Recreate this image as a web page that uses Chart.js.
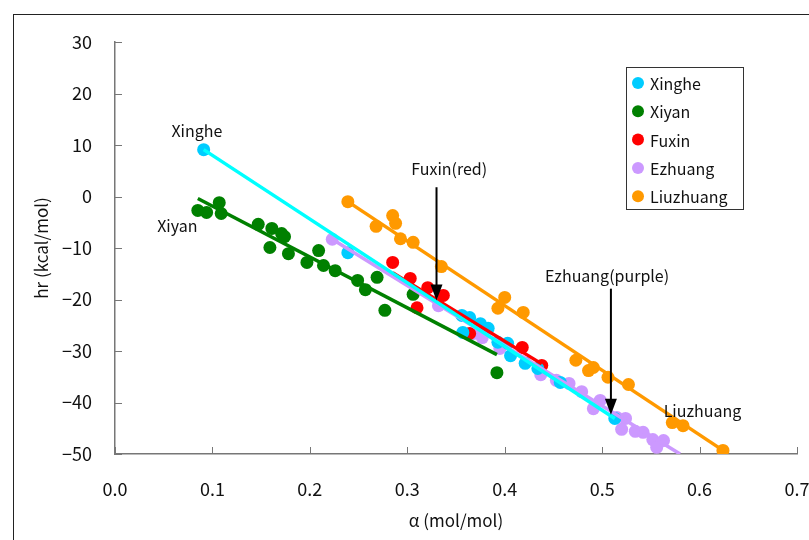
<!DOCTYPE html>
<html lang="en">
<head>
<meta charset="UTF-8">
<title>hr vs alpha</title>
<script src="https://cdn.jsdelivr.net/npm/chart.js"></script>
<style>
  html, body { margin: 0; padding: 0; background: #fff; }
  .chart-box { position: relative; width: 809px; height: 540px; }
</style>
</head>
<body>
<div class="chart-box"><canvas id="hrChart" width="809" height="540"></canvas></div>
<script>
// values: alpha (mol/mol) vs hr (kcal/mol)
const xingheAlpha = [0.091, 0.239, 0.356, 0.364, 0.375, 0.357, 0.383, 0.393, 0.403, 0.406, 0.421, 0.434, 0.457, 0.513];
const xingheHr    = [9.1, -10.9, -23.1, -23.5, -24.7, -26.4, -25.6, -28.3, -28.5, -30.9, -32.4, -33.4, -36.1, -43.1];

const xiyanAlpha = [0.085, 0.094, 0.107, 0.109, 0.147, 0.161, 0.159, 0.171, 0.174, 0.178, 0.197, 0.209, 0.214, 0.226, 0.249, 0.257, 0.269, 0.277, 0.306, 0.392];
const xiyanHr    = [-2.7, -3.1, -1.2, -3.3, -5.4, -6.2, -9.9, -7.2, -7.8, -11.1, -12.8, -10.5, -13.4, -14.4, -16.3, -18.1, -15.7, -22.1, -19.0, -34.2];

const fuxinAlpha = [0.285, 0.303, 0.321, 0.337, 0.310, 0.364, 0.418, 0.438];
const fuxinHr    = [-12.8, -15.9, -17.7, -19.2, -21.6, -26.6, -29.3, -32.8];

const ezhuangAlpha = [0.223, 0.332, 0.368, 0.377, 0.395, 0.437, 0.453, 0.466, 0.479, 0.491, 0.498, 0.515, 0.524, 0.520, 0.534, 0.542, 0.552, 0.563, 0.556];
const ezhuangHr    = [-8.3, -21.2, -26.6, -27.4, -29.5, -34.6, -35.7, -36.3, -37.9, -41.2, -39.6, -42.9, -43.1, -45.2, -45.6, -45.8, -47.2, -47.4, -48.7];

const liuzhuangAlpha = [0.239, 0.268, 0.285, 0.288, 0.293, 0.306, 0.335, 0.393, 0.400, 0.419, 0.473, 0.486, 0.491, 0.506, 0.527, 0.572, 0.583, 0.624];
const liuzhuangHr    = [-1.0, -5.8, -3.7, -5.2, -8.2, -8.9, -13.6, -21.7, -19.6, -22.5, -31.8, -33.8, -33.2, -35.1, -36.5, -43.9, -44.5, -49.3];

// trend line end points (alpha, hr)
const xingheFitAlpha = [0.091, 0.513],    xingheFitHr = [9.1, -43.1];
const xiyanFitAlpha = [0.085, 0.392],     xiyanFitHr = [-0.4, -30.7];
const fuxinFitAlpha = [0.285, 0.438],     fuxinFitHr = [-14.8, -32.5];
const ezhuangFitAlpha = [0.223, 0.580],   ezhuangFitHr = [-8.3, -50.0];
const liuzhuangFitAlpha = [0.239, 0.624], liuzhuangFitHr = [-1.0, -49.3];

const xTicks = [0, 0.1, 0.2, 0.3, 0.4, 0.5, 0.6, 0.7];
const yTicks = [30, 20, 10, 0, -10, -20, -30, -40, -50];

const FONT = "'Noto Sans CJK JP', 'Noto Sans', sans-serif";

function pts(xs, ys) {
    return xs.map((x, i) => ({ x: x, y: ys[i] }));
}

function scatterSet(label, xs, ys, color) {
    return {
        label: label,
        data: pts(xs, ys),
        backgroundColor: color,
        borderColor: color,
        pointRadius: 6.5,
        pointHoverRadius: 6.5,
        borderWidth: 0,
        order: 2
    };
}

function fitSet(xs, ys, color) {
    return {
        label: '',
        data: pts(xs, ys),
        showLine: true,
        borderColor: color,
        borderWidth: 3.5,
        pointRadius: 0,
        fill: false,
        order: 1,
        isFit: true
    };
}

const annotations = [
    { text: 'Xinghe', x: 0.084, y: 12.8 },
    { text: 'Xiyan', x: 0.064, y: -5.8 },
    { text: 'Fuxin(red)', x: 0.343, y: 5.4 },
    { text: 'Ezhuang(purple)', x: 0.505, y: -15.5 },
    { text: 'Liuzhuang', x: 0.603, y: -41.6 }
];
const arrows = [
    { x: 0.330, from: 1.8, to: -20.2 },
    { x: 0.509, from: -17.9, to: -42.4 }
];

function noPad(s) {
    s.paddingLeft = 0;
    s.paddingRight = 0;
    s.paddingTop = 0;
    s.paddingBottom = 0;
}

const extras = {
    id: 'extras',
    beforeDraw(chart) {
        const c = chart.ctx;
        c.save();
        c.fillStyle = '#fff';
        c.fillRect(0, 0, chart.width, chart.height);
        c.strokeStyle = '#222';
        c.lineWidth = 1;
        c.strokeRect(13.5, 14.5, 1000, 1000);
        c.restore();
    },
    afterDatasetsDraw(chart) {
        const c = chart.ctx;
        const xs = chart.scales.x, ys = chart.scales.y;
        const a = chart.chartArea;
        c.save();
        // inward tick marks
        c.strokeStyle = '#777';
        c.lineWidth = 1;
        c.beginPath();
        yTicks.forEach(v => {
            const py = Math.round(ys.getPixelForValue(v)) + 0.5;
            c.moveTo(a.left, py);
            c.lineTo(a.left + 7, py);
        });
        xTicks.forEach(v => {
            const px = Math.round(xs.getPixelForValue(v)) + 0.5;
            c.moveTo(px, a.bottom);
            c.lineTo(px, a.bottom - 7);
        });
        c.stroke();

        // text labels
        c.fillStyle = '#111';
        c.font = '16px ' + FONT;
        c.textAlign = 'center';
        c.textBaseline = 'middle';
        annotations.forEach(t => {
            c.fillText(t.text, xs.getPixelForValue(t.x), ys.getPixelForValue(t.y));
        });

        // arrows
        arrows.forEach(ar => {
            const px = xs.getPixelForValue(ar.x);
            const y0 = ys.getPixelForValue(ar.from);
            const y1 = ys.getPixelForValue(ar.to);
            c.strokeStyle = '#000';
            c.lineWidth = 2;
            c.beginPath();
            c.moveTo(px, y0);
            c.lineTo(px, y1 - 14);
            c.stroke();
            c.fillStyle = '#000';
            c.beginPath();
            c.moveTo(px - 6, y1 - 16);
            c.lineTo(px + 6, y1 - 16);
            c.lineTo(px, y1);
            c.closePath();
            c.fill();
        });

        // legend box
        const lx = 626, ly = 67, lw = 117, lh = 142;
        c.fillStyle = '#fff';
        c.fillRect(lx, ly, lw, lh);
        c.strokeStyle = '#333';
        c.lineWidth = 1;
        c.strokeRect(lx + 0.5, ly + 0.5, lw, lh);
        const series = chart.data.datasets.filter(d => !d.isFit);
        c.font = '16px ' + FONT;
        c.textAlign = 'left';
        c.textBaseline = 'middle';
        series.forEach((d, i) => {
            const cy = ly + 16 + i * 28.3;
            c.fillStyle = d.backgroundColor;
            c.beginPath();
            c.arc(lx + 12, cy, 6, 0, Math.PI * 2);
            c.fill();
            c.fillStyle = '#111';
            c.fillText(d.label, lx + 24, cy + 1);
        });
        c.restore();
    }
};

new Chart(document.getElementById('hrChart'), {
    type: 'scatter',
    data: {
        datasets: [
            scatterSet('Xinghe', xingheAlpha, xingheHr, '#00CCFF'),
            scatterSet('Xiyan', xiyanAlpha, xiyanHr, '#008000'),
            scatterSet('Fuxin', fuxinAlpha, fuxinHr, '#FF0000'),
            scatterSet('Ezhuang', ezhuangAlpha, ezhuangHr, '#CC99FF'),
            scatterSet('Liuzhuang', liuzhuangAlpha, liuzhuangHr, '#FF9900'),
            fitSet(xingheFitAlpha, xingheFitHr, '#00FFFF'),
            fitSet(xiyanFitAlpha, xiyanFitHr, '#008000'),
            fitSet(fuxinFitAlpha, fuxinFitHr, '#FF0000'),
            fitSet(ezhuangFitAlpha, ezhuangFitHr, '#CC99FF'),
            fitSet(liuzhuangFitAlpha, liuzhuangFitHr, '#FF9900')
        ]
    },
    options: {
        responsive: false,
        animation: false,
        layout: { padding: { left: 0, top: 42, right: 12, bottom: 0 } },
        scales: {
            x: {
                type: 'linear',
                min: 0,
                max: 0.7,
                afterFit: s => { s.height = 86; noPad(s); },
                afterBuildTicks: s => { s.ticks = xTicks.map(v => ({ value: v })); },
                grid: { display: false, drawTicks: false },
                border: { color: '#777', width: 1.5 },
                ticks: {
                    color: '#111',
                    padding: 24,
                    font: { family: FONT, size: 18 },
                    callback: v => v.toFixed(1)
                },
                title: {
                    display: true,
                    text: 'α (mol/mol)',
                    color: '#111',
                    font: { family: FONT, size: 17 },
                    padding: { top: 0, bottom: 9 }
                }
            },
            y: {
                type: 'linear',
                min: -50,
                max: 30,
                afterFit: s => { s.width = 115; noPad(s); },
                afterBuildTicks: s => { s.ticks = yTicks.map(v => ({ value: v })); },
                grid: { display: false, drawTicks: false },
                border: { color: '#777', width: 1.5 },
                ticks: {
                    color: '#111',
                    padding: 23,
                    font: { family: FONT, size: 18 },
                    callback: v => String(v).replace('-', '\u2212')
                },
                title: {
                    display: true,
                    text: 'hr (kcal/mol)',
                    color: '#111',
                    font: { family: FONT, size: 17 },
                    padding: { top: 31, bottom: 0 }
                }
            }
        },
        plugins: {
            legend: { display: false },
            tooltip: { enabled: false }
        }
    },
    plugins: [extras]
});
</script>
</body>
</html>
